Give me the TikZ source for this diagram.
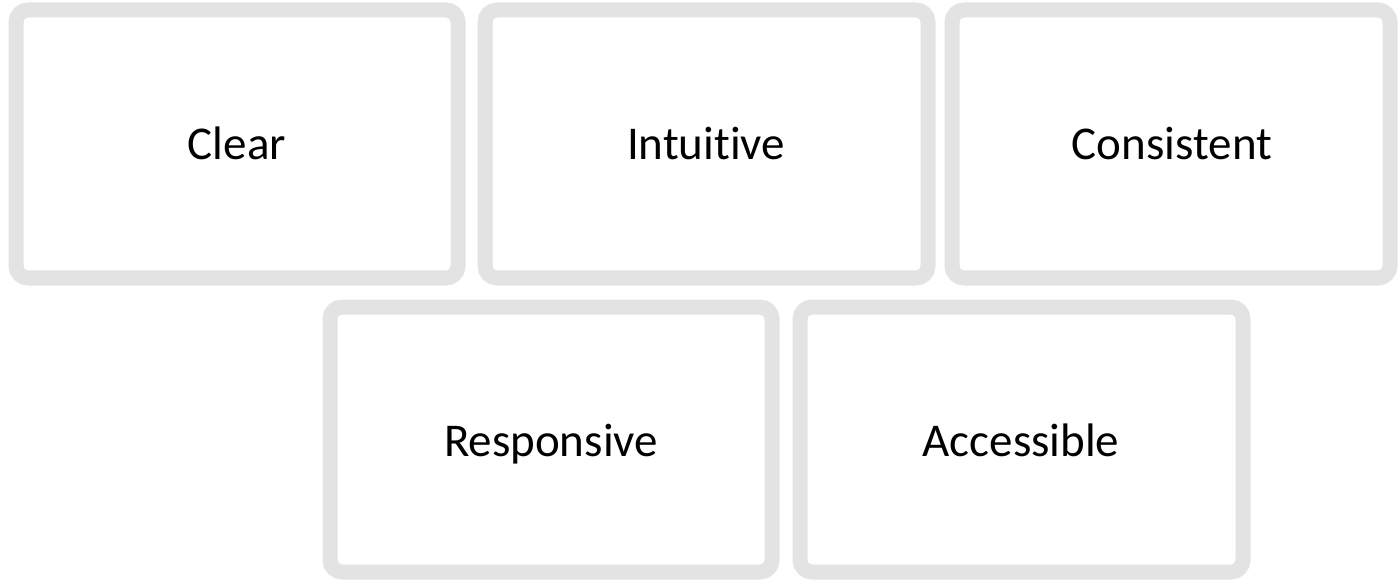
\documentclass[tikz,border=0pt]{standalone}
\usepackage{fontspec}
\setmainfont[Ligatures=NoCommon]{Carlito}
\begin{document}
\begin{tikzpicture}[x=1pt,y=-1pt,
  card/.style={draw=black!11, line width=15pt, rounded corners=12pt, fill=white},
  lbl/.style={anchor=base, font=\fontsize{47}{56}\selectfont, text=black}]
\useasboundingbox (0,0) rectangle (1398,580);
\draw[card] (16,10) rectangle (458,278);
\draw[card] (485,10) rectangle (928,278);
\draw[card] (952,10) rectangle (1390,278);
\draw[card] (330,307) rectangle (772,572);
\draw[card] (800,307) rectangle (1243,572);
\node[lbl] (clear) at (237,160) {Clear};
\node[lbl] (intuitive) at (706,160) {Intuitive};
\node[lbl] (consistent) at (1172,160) {Consistent};
\node[lbl] (responsive) at (551,456) {Responsive};
\node[lbl] (accessible) at (1021,456) {Accessible};
\end{tikzpicture}
\end{document}
